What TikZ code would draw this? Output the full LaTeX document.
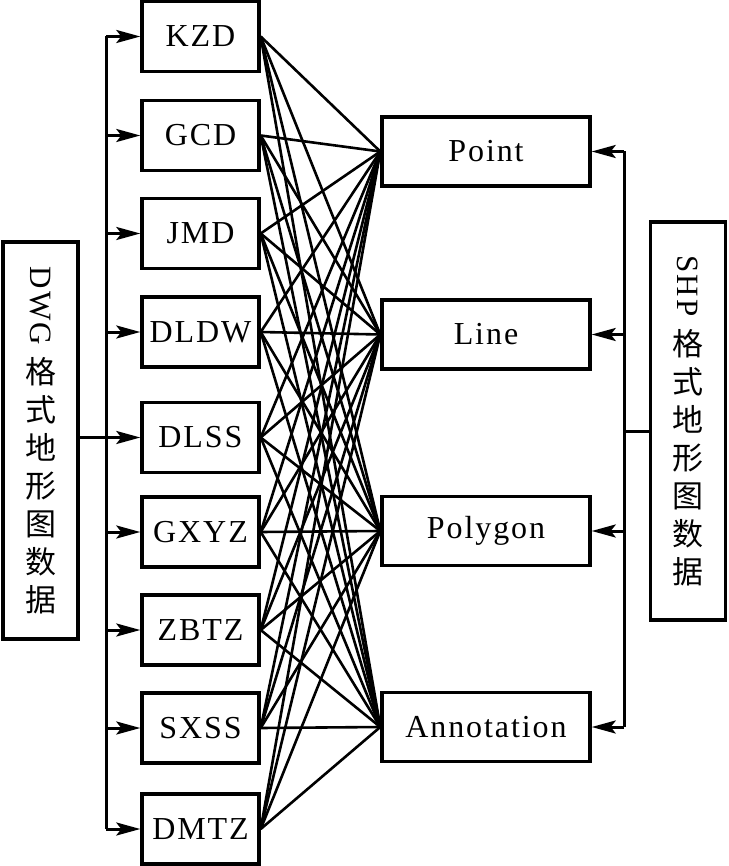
\documentclass[tikz,border=0pt]{standalone}
\usepackage{fontspec}
\setmainfont{Liberation Serif}[LetterSpace=6]
\newfontfamily\cjk{Noto Sans CJK SC}
\usetikzlibrary{arrows.meta}
\begin{document}
\begin{tikzpicture}[x=1pt,y=-1pt,
  box/.style={draw, line width=3.4pt, inner sep=0pt, minimum width=117pt, minimum height=70pt, font=\fontsize{32}{32}\selectfont},
  tbox/.style={box, minimum width=208pt, minimum height=69pt},
  vbox/.style={draw, line width=3.4pt, inner sep=0pt, align=center, font=\cjk\fontsize{31}{38}\selectfont},
  link/.style={line width=2.6pt},
  bus/.style={line width=3pt},
  arr/.style={line width=3pt, -{Stealth[length=24pt,width=13pt,inset=5pt]}}]
\useasboundingbox (0,0) rectangle (728,866);

% left column
\node[box] (kzd)  at (200.5,36.5) {KZD};
\node[box] (gcd)  at (200.5,135.5) {GCD};
\node[box] (jmd)  at (200.5,233.5) {JMD};
\node[box] (dldw) at (200.5,332) {DLDW};
\node[box] (dlss) at (200.5,437.5) {DLSS};
\node[box] (gxyz) at (200.5,532) {GXYZ};
\node[box] (zbtz) at (200.5,630) {ZBTZ};
\node[box] (sxss) at (200.5,728) {SXSS};
\node[box] (dmtz) at (200.5,829) {DMTZ};

% right column
\node[tbox] (point) at (486,151.5) {Point};
\node[tbox] (line)  at (486,334.5) {Line};
\node[tbox] (poly)  at (486,531) {Polygon};
\node[tbox] (anno)  at (486,727) {Annotation};

% side boxes
\node[vbox, minimum width=75pt, minimum height=397pt] (dwg) at (40.5,440.5)
  {\rotatebox{-90}{\rmfamily DWG}\\[12pt]格\\式\\地\\形\\图\\数\\据};
\node[vbox, minimum width=75pt, minimum height=398pt] (shp) at (688,421)
  {\rotatebox{-90}{\rmfamily SHP}\\[12pt]格\\式\\地\\形\\图\\数\\据};

% left bus
\coordinate (bl) at (106,437);
\coordinate (blt) at (106,36.5);
\coordinate (blb) at (106,829);
\draw[bus] (dwg.east |- bl) -- (bl);
\draw[bus] (blt) -- (blb);
\foreach \n in {kzd,gcd,jmd,dldw,dlss,gxyz,zbtz,sxss,dmtz}
  \draw[arr] (bl |- \n) -- (\n.west);

% right bus
\coordinate (br) at (624,431);
\coordinate (brt) at (624,151.5);
\coordinate (brb) at (624,727);
\draw[bus] (shp.west |- br) -- (br);
\draw[bus] (brt) -- (brb);
\foreach \n in {point,line,poly,anno}
  \draw[arr] (br |- \n) -- (\n.east);

% links
\foreach \a in {kzd,gcd,jmd,dldw,dlss,gxyz,zbtz,sxss,dmtz}
  \foreach \b in {point,line,poly,anno}
    \draw[link] (\a.east) -- (\b.west);
\end{tikzpicture}
\end{document}
